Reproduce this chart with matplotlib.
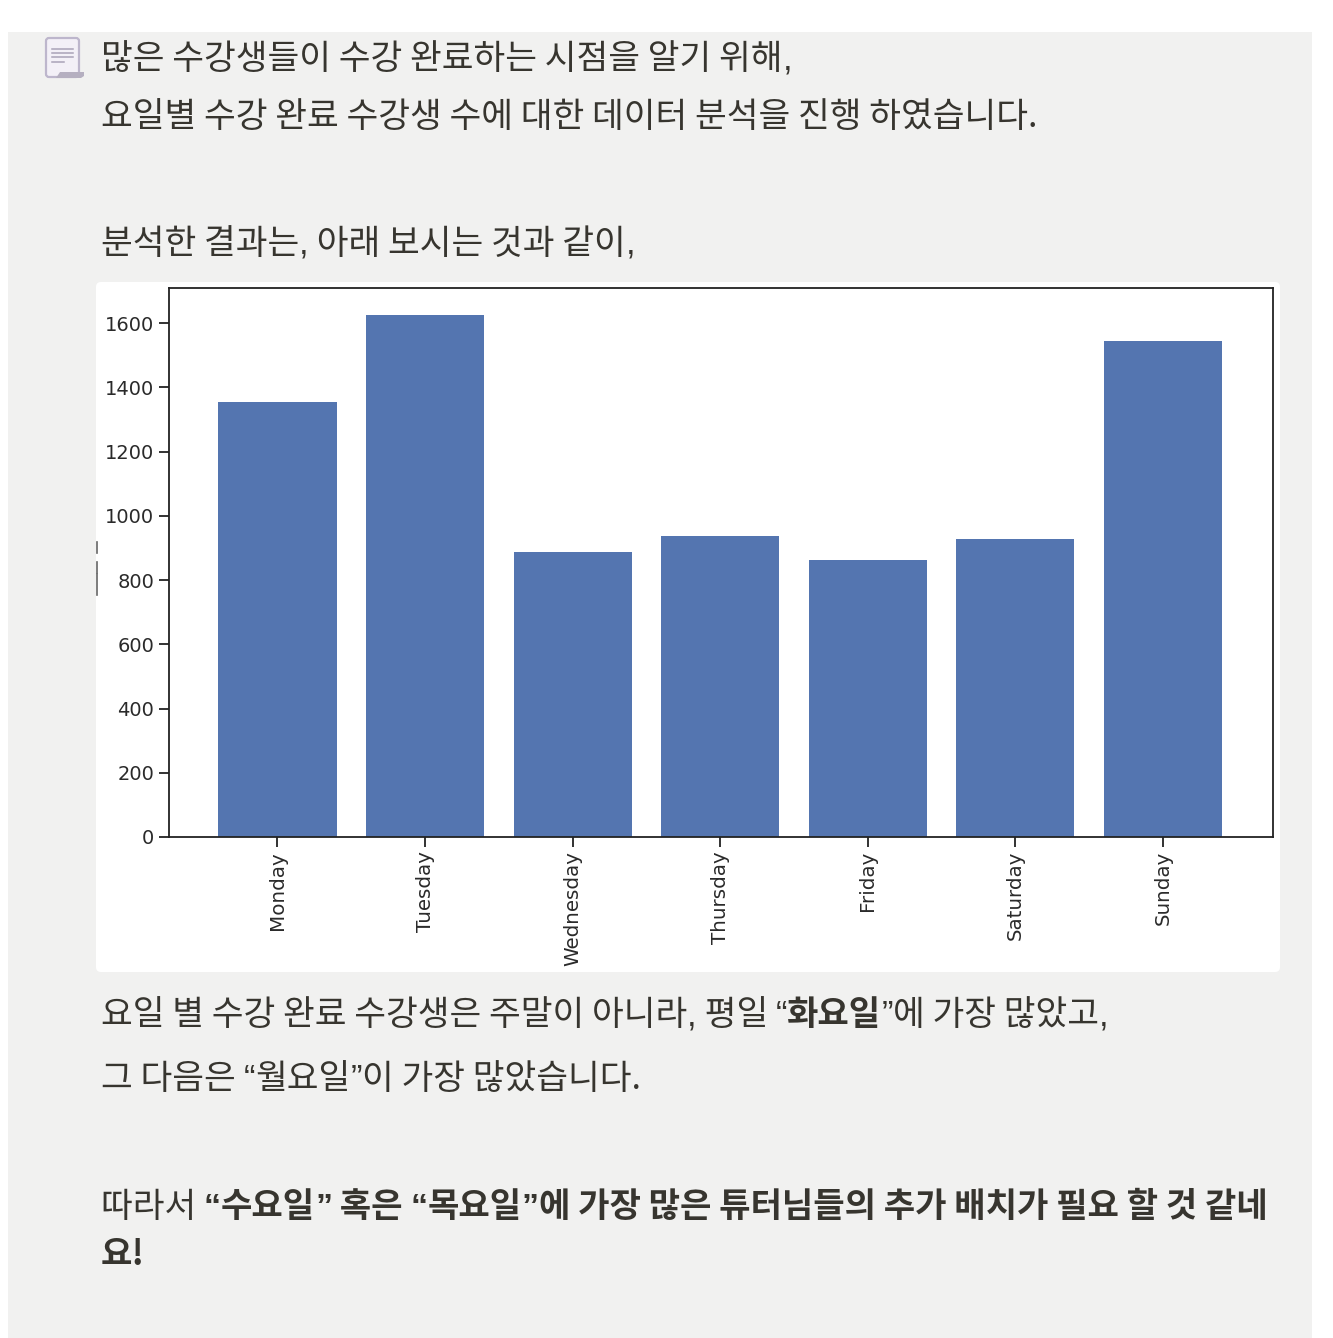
import re
import matplotlib
matplotlib.use('Agg')
import matplotlib.pyplot as plt
from matplotlib.patches import Rectangle, FancyBboxPatch, Polygon

days = ['Monday', 'Tuesday', 'Wednesday', 'Thursday', 'Friday', 'Saturday', 'Sunday']
counts = [1354, 1625, 887, 937, 862, 928, 1544]
y_ticks = [0, 200, 400, 600, 800, 1000, 1200, 1400, 1600]

lines = [
    (101, 69, [('많은 수강생들이 수강 완료하는 시점을 알기 위해,', False)]),
    (101, 127, [('요일별 수강 완료 수강생 수에 대한 데이터 분석을 진행 하였습니다.', False)]),
    (101, 254, [('분석한 결과는, 아래 보시는 것과 같이,', False)]),
    (101, 1025, [('요일 별 수강 완료 수강생은 주말이 아니라, 평일 “', False), ('화요일', True), ('”에 가장 많았고,', False)]),
    (101, 1089, [('그 다음은 “월요일”이 가장 많았습니다.', False)]),
    (101, 1217, [('따라서 ', False), ('“수요일” 혹은 “목요일”에 가장 많은 튜터님들의 추가 배치가 필요 할 것 같네', True)]),
    (101, 1265, [('요!', True)]),
]

W, H = 1333, 1338
plt.rcParams['font.family'] = ['Noto Sans CJK KR', 'DejaVu Sans']
fig = plt.figure(figsize=(W / 100, H / 100), dpi=100, facecolor='white')

bg = fig.add_axes([0, 0, 1, 1])
bg.set_xlim(0, W)
bg.set_ylim(H, 0)
bg.axis('off')
bg.add_patch(Rectangle((8, 32), 1304, 1306, fc='#f1f1f0', ec='none'))
bg.add_patch(FancyBboxPatch((100, 286), 1176, 682, boxstyle='round,pad=4,rounding_size=5',
                            fc='white', ec='none'))
for y1, y2 in [(542, 553), (562, 573), (574, 595)]:
    bg.plot([97, 97], [y1, y2], color='#666666', lw=1.2)

# note icon
bg.add_patch(FancyBboxPatch((47, 39), 31, 37, boxstyle='round,pad=1,rounding_size=3',
                            fc='#f3f0f7', ec='#bdb6cc', lw=1.6))
bg.add_patch(Polygon([(56, 78), (60, 72), (84, 72), (84, 76), (81, 78)], fc='#b5afc0', ec='none'))
for yy, x1 in [(49, 73), (53, 73), (57, 73), (62, 64)]:
    bg.plot([52, x1], [yy, yy], color='#a9a3b8', lw=1.1)

ax = fig.add_axes([169 / W, 1 - 837 / H, (1273 - 169) / W, (837 - 288) / H])
ax.bar(range(len(days)), counts, width=0.8, color='#5475b0')
ax.set_xlim(-0.735, 6.745)
ax.set_ylim(0, 1709)
ax.set_xticks(range(len(days)))
ax.set_xticklabels(days, rotation=90, family='DejaVu Sans', fontsize=14.3, color='#2a2a2a')
ax.set_yticks(y_ticks)
ax.set_yticklabels([str(v) for v in y_ticks], family='DejaVu Sans', fontsize=14, color='#2a2a2a')
ax.tick_params(axis='y', length=7, width=1.3, color='#222222', pad=3.5)
ax.tick_params(axis='x', length=7, width=1.3, color='#222222', pad=3)
for s in ax.spines.values():
    s.set_linewidth(1.3)
    s.set_color('#222222')

fig.canvas.draw()
r = fig.canvas.get_renderer()
for x0, y0, parts in lines:
    x = x0
    for s, bold in parts:
        for chunk in re.split('([“”,])', s):
            if not chunk:
                continue
            narrow = chunk in '“”,'
            t = bg.text(x, y0, chunk, fontsize=24.6 if bold else 24.85, color='#37352f',
                        va='baseline', ha='left', fontweight='bold' if bold else 'normal',
                        family='Liberation Sans' if narrow else 'Noto Sans CJK KR')
            x = t.get_window_extent(r).x1

fig.savefig('out.png', dpi=100)
